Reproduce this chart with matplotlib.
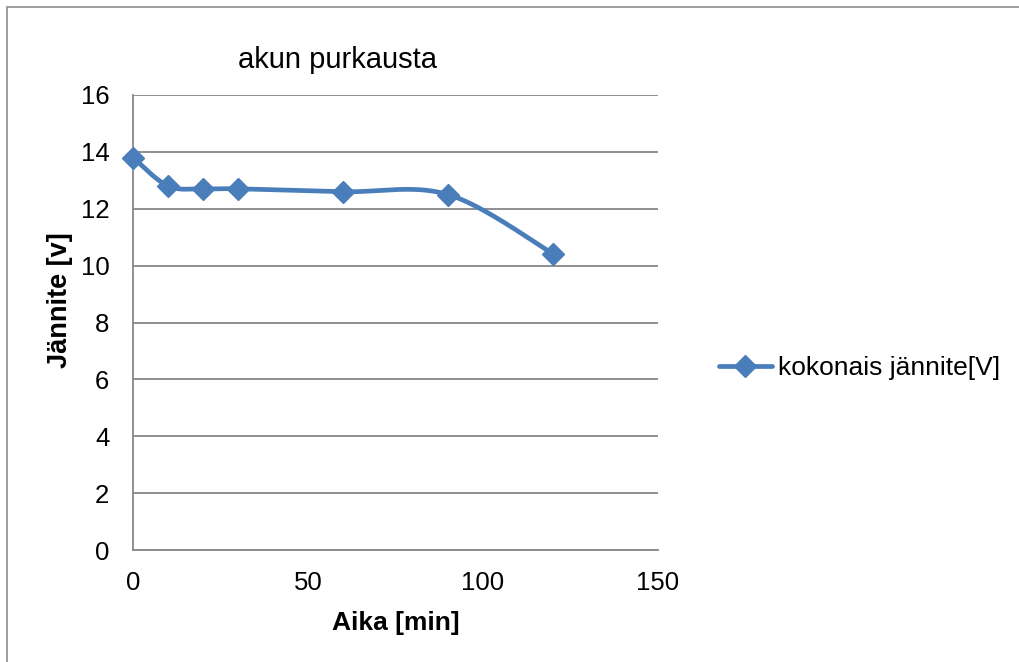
import numpy as np
import matplotlib
matplotlib.use("Agg")
import matplotlib.pyplot as plt
from matplotlib.lines import Line2D
from matplotlib.patches import Rectangle

# Battery discharge measurement
time_min = [0, 10, 20, 30, 60, 90, 120]
voltage = [13.8, 12.8, 12.7, 12.7, 12.6, 12.5, 10.42]

title = "akun purkausta"
x_label = "Aika [min]"
y_label = "Jännite [v]"
series_name = "kokonais jännite[V]"
x_ticks = [0, 50, 100, 150]
y_ticks = [0, 2, 4, 6, 8, 10, 12, 14, 16]

LINE_COLOR = "#4A7EBB"
GRID_COLOR = "#878787"
FONT = "Liberation Sans"
LW = 3.4
MS = 11.5


def smooth_curve(xs, ys, steps=40):
    """Catmull-Rom style Bezier smoothing through every point."""
    p = np.column_stack([xs, ys]).astype(float)
    n = len(p)
    out = [p[0]]
    t = np.linspace(0, 1, steps)[1:, None]
    for i in range(n - 1):
        p0 = p[max(i - 1, 0)]
        p1 = p[i]
        p2 = p[i + 1]
        p3 = p[min(i + 2, n - 1)]
        c1 = p1 + (p2 - p0) / 6.0
        c2 = p2 - (p3 - p1) / 6.0
        seg = ((1 - t) ** 3) * p1 + 3 * ((1 - t) ** 2) * t * c1 \
            + 3 * (1 - t) * t ** 2 * c2 + t ** 3 * p2
        out.extend(seg)
    out = np.array(out)
    return out[:, 0], out[:, 1]


W, H = 1020, 662
fig = plt.figure(figsize=(W / 100, H / 100), dpi=100)

# chart frame
fig.patches.append(Rectangle((7 / W, -0.05), 1.1, 1 - 7 / H + 0.05,
                             transform=fig.transFigure, fill=False,
                             edgecolor="#8c8c8c", linewidth=1.2))

left, right, top, bottom = 133, 658, 95, 550
ax = fig.add_axes([left / W, 1 - bottom / H, (right - left) / W, (bottom - top) / H])

sx, sy = smooth_curve(time_min, voltage)
ax.plot(sx, sy, color=LINE_COLOR, linewidth=LW, solid_capstyle="round",
        zorder=3, clip_on=False)
ax.plot(time_min, voltage, linestyle="none", marker="D", markersize=MS,
        color=LINE_COLOR, zorder=4, clip_on=False)

ax.set_xlim(0, 150)
ax.set_ylim(0, 16)
ax.set_xticks(x_ticks)
ax.set_yticks(y_ticks)
ax.tick_params(length=0, labelsize=18.5)
ax.tick_params(axis="y", pad=17)
ax.tick_params(axis="x", pad=15)
for lab in ax.get_xticklabels() + ax.get_yticklabels():
    lab.set_fontfamily(FONT)

ax.grid(axis="y", color=GRID_COLOR, linewidth=1.3)
ax.set_axisbelow(True)
for side in ("top", "right"):
    ax.spines[side].set_visible(False)
for side in ("left", "bottom"):
    ax.spines[side].set_color(GRID_COLOR)
    ax.spines[side].set_linewidth(1.3)

ax.set_xlabel(x_label, fontsize=19, fontweight="bold", family=FONT)
ax.xaxis.set_label_coords((396 - left) / (right - left), (bottom - 623) / (bottom - top))
ax.xaxis.label.set_va("center")
ax.set_ylabel(y_label, fontsize=19.5, fontweight="bold", family=FONT)
ax.yaxis.set_label_coords((60 - left) / (right - left), (bottom - 300) / (bottom - top))
ax.yaxis.label.set_va("center")

fig.text(338 / W, 1 - 60 / H, title, fontsize=21, family=FONT,
         ha="center", va="center")

handle = Line2D([], [], color=LINE_COLOR, linewidth=LW, marker="D",
                markersize=MS, solid_capstyle="round")
fig.legend([handle], [series_name], loc="center left",
           bbox_to_anchor=(719 / W, 1 - 368 / H), frameon=False,
           prop={"family": FONT, "size": 19}, handlelength=2.0,
           handletextpad=0.25, borderpad=0, borderaxespad=0)

fig.savefig("out.png", dpi=100)
